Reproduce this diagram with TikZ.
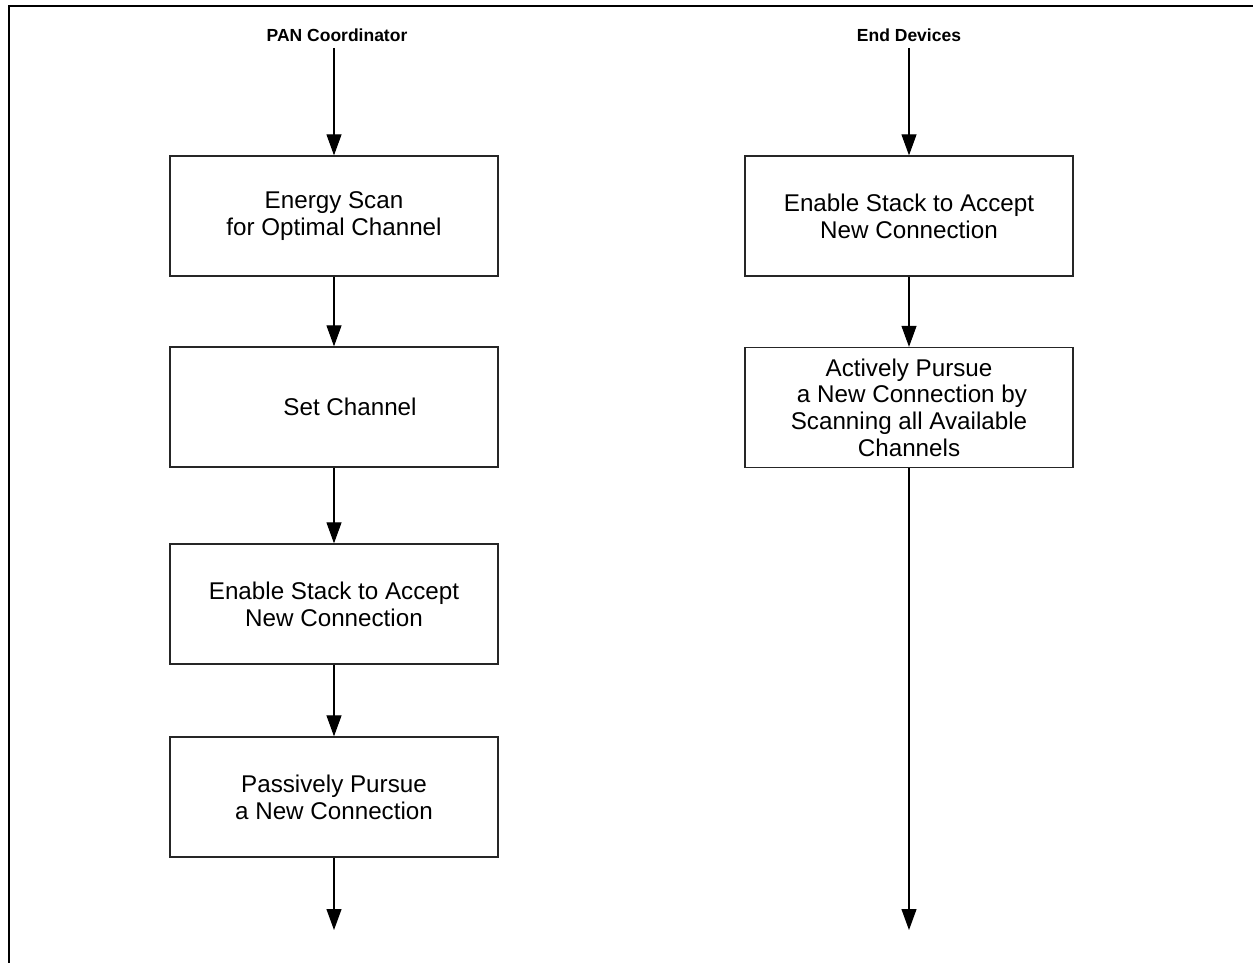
\documentclass[tikz,border=0pt]{standalone}
\usepackage{fontspec}
\setmainfont{Liberation Sans}
\usetikzlibrary{arrows.meta}
\begin{document}
\begin{tikzpicture}[x=1pt,y=-1pt,
  stepbox/.style={draw=black!85,line width=1.3pt,minimum width=328pt,minimum height=120pt,
    inner sep=0pt,align=center,font=\fontsize{24.2}{26.7}\selectfont},
  header/.style={font=\fontsize{17.5}{21}\selectfont\bfseries},
  flow/.style={line width=1.1pt,-{Triangle[width=15pt,length=21pt]}}]
\useasboundingbox (0,0) rectangle (1253,963);
% open frame: top and left edges
\draw[line width=2pt] (8.5,963) -- (8.5,6.5) -- (1253,6.5);

% column headings
\node[header] (hpan) at (337,35) {PAN Coordinator};
\node[header] (hend) at (909,35) {End Devices};

% PAN coordinator column
\node[stepbox] (scan) at (334,216) {Energy Scan\\for Optimal Channel};
\node[stepbox] (setch) at (334,407) {\hspace*{32pt}Set Channel};
\node[stepbox] (enab) at (334,604) {Enable Stack to Accept\\New Connection};
\node[stepbox] (pass) at (334,797) {Passively Pursue\\a New Connection};
\coordinate (pin) at (334,48);
\coordinate (pout) at (334,930);

% end device column
\node[stepbox] (enabd) at (909,216) {Enable Stack to Accept\\New Connection};
\node[stepbox] (act) at (909,407.5) {Actively Pursue\\\hspace*{6pt}a New Connection by\\Scanning all Available\\Channels};
\coordinate (ein) at (909,48);
\coordinate (eout) at (909,930);

% connectors
\draw[flow] (pin) -- (scan.north);
\draw[flow] (scan.south) -- (setch.north);
\draw[flow] (setch.south) -- (enab.north);
\draw[flow] (enab.south) -- (pass.north);
\draw[flow] (pass.south) -- (pout);
\draw[flow] (ein) -- (enabd.north);
\draw[flow] (enabd.south) -- (act.north);
\draw[flow] (act.south) -- (eout);
\end{tikzpicture}
\end{document}
